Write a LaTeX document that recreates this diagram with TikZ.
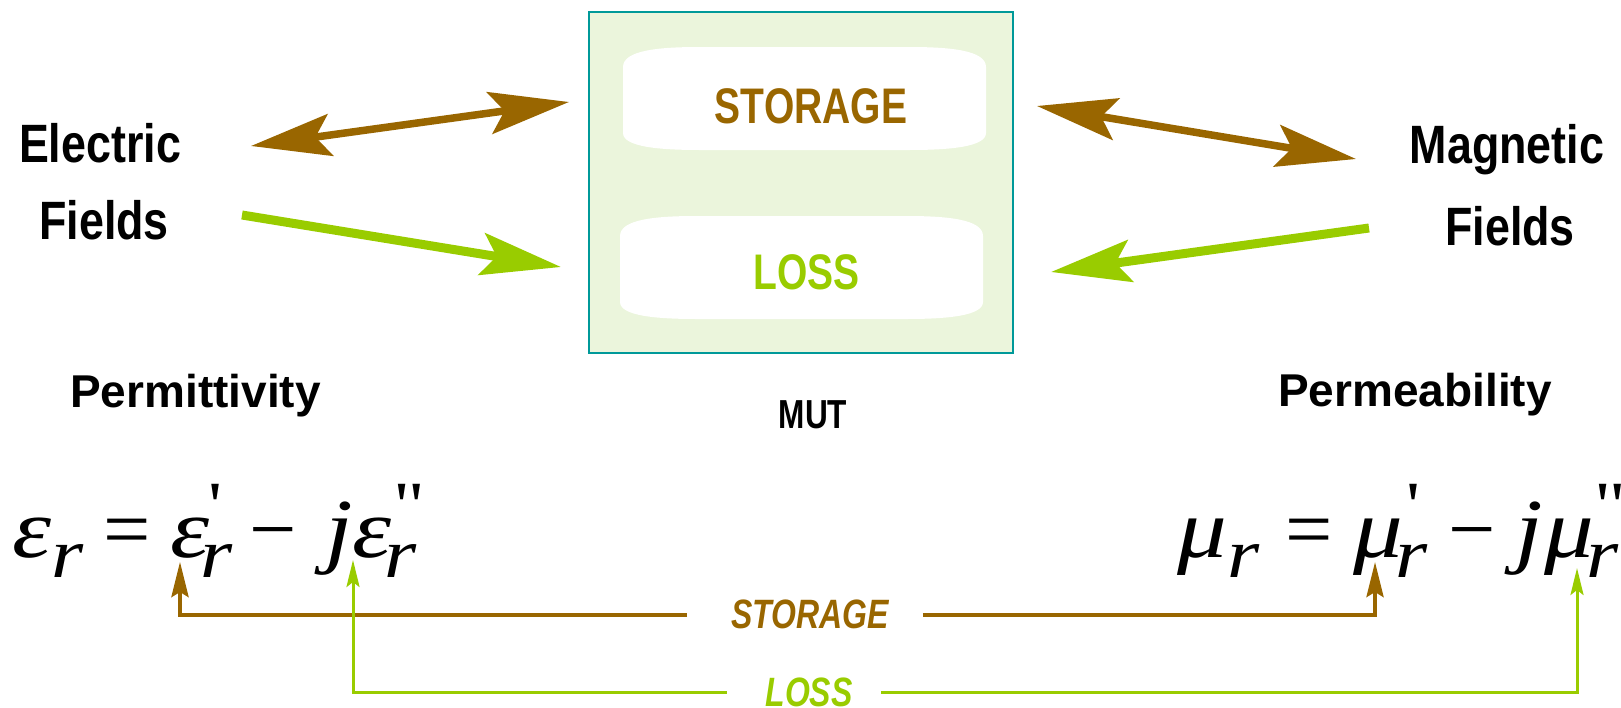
\documentclass[tikz,border=0pt]{standalone}
\usepackage{fontspec}
\setmainfont{Liberation Sans}
\newfontfamily\narrowsf[FakeStretch=0.78]{Liberation Sans}
\newfontfamily\midsf[FakeStretch=0.83]{Liberation Sans}
\newfontfamily\eqfont[Ligatures=TeXOff, FakeStretch=1.18]{Liberation Serif}
\newfontfamily\eqopfont{Liberation Serif}
\usetikzlibrary{arrows.meta}
\definecolor{storebrown}{HTML}{996600}
\definecolor{lossgreen}{HTML}{99CC00}
\definecolor{mutedge}{HTML}{009999}
\definecolor{mutfill}{HTML}{EBF5DC}
\newcommand\lowr{\raisebox{-20pt}{\fontsize{70}{70}\selectfont r}}
\newcommand\tick[1]{\raisebox{30pt}{\upshape\fontsize{66}{66}\selectfont #1}}
\newcommand\eqop[1]{{\eqopfont\upshape #1}}
\newcommand\glyphat[2]{\rlap{\kern#1pt#2}}
\tikzset{
  fieldlbl/.style={inner sep=0pt, anchor=base, font=\midsf\bfseries\fontsize{54}{60}\selectfont},
  proplbl/.style={inner sep=0pt, anchor=base, font=\bfseries\fontsize{46}{52}\selectfont},
  padlbl/.style={inner sep=0pt, anchor=base, font=\narrowsf\bfseries\fontsize{50}{56}\selectfont},
  wirelbl/.style={inner ysep=0pt, font=\narrowsf\bfseries\itshape\fontsize{41}{46}\selectfont},
  eqtext/.style={inner sep=0pt, anchor=base west, font=\eqfont\itshape\fontsize{84}{90}\selectfont},
  pad/.style={fill=white},
  bigarrow/.style={>={Stealth[length=80pt,width=42pt,inset=15pt]}},
  storeline/.style={storebrown, line width=4pt, -{Stealth[length=35pt,width=17pt,inset=5pt]}},
  lossline/.style={lossgreen, line width=3pt, -{Stealth[length=27pt,width=13pt,inset=5pt]}}
}

\begin{document}
\begin{tikzpicture}[x=1pt, y=-1pt]
  \useasboundingbox (0,0) rectangle (1621,707);

  % material under test
  \node[draw=mutedge, fill=mutfill, line width=2pt, minimum width=424pt, minimum height=341pt] (mut) at (801,182.5) {};
  \fill[pad, shift={(623,47)}] (0,20) .. controls (0,3) and (37,0) .. (77,0) -- (286,0) .. controls (326,0) and (363,3) .. (363,20) -- (363,86) .. controls (363,100) and (326,103) .. (286,103) -- (77,103) .. controls (37,103) and (0,100) .. (0,86) -- cycle;
  \fill[pad, shift={(620,216)}] (0,20) .. controls (0,3) and (37,0) .. (77,0) -- (286,0) .. controls (326,0) and (363,3) .. (363,20) -- (363,86) .. controls (363,100) and (326,103) .. (286,103) -- (77,103) .. controls (37,103) and (0,100) .. (0,86) -- cycle;
  \node[padlbl, storebrown] (store) at (811,123) {STORAGE};
  \node[padlbl, lossgreen] (loss) at (806.5,289) {LOSS};
  \node[padlbl, font=\narrowsf\bfseries\fontsize{40.5}{46}\selectfont] (mutlbl) at (813,428) {MUT};

  % fields and properties
  \node[fieldlbl] (elec) at (100,162) {Electric};
  \node[fieldlbl] (elecf) at (104,239) {Fields};
  \node[fieldlbl] (magn) at (1507,163) {Magnetic};
  \node[fieldlbl] (magnf) at (1510,245) {Fields};
  \node[proplbl] (perm) at (195.5,407) {Permittivity};
  \node[proplbl] (perb) at (1415,406) {Permeability};

  % field arrows
  \coordinate (eS) at (251,146);
  \coordinate (mS) at (569,102);
  \coordinate (eL) at (242,215);
  \coordinate (mL) at (561,267);
  \coordinate (mS2) at (1037,106);
  \coordinate (hS) at (1356,159);
  \coordinate (hL) at (1369,228);
  \coordinate (mL2) at (1051,272);
  \draw[bigarrow, <->, storebrown, line width=7.5pt] (eS) -- (mS);
  \draw[bigarrow, ->, lossgreen, line width=9pt] (eL) -- (mL);
  \draw[bigarrow, <->, storebrown, line width=7.5pt] (mS2) -- (hS);
  \draw[bigarrow, ->, lossgreen, line width=9pt] (hL) -- (mL2);

  % equations
  \node[eqtext] (epseq) at (12,557) {\glyphat{0}{ε}\glyphat{39}{\lowr}\glyphat{91}{\eqop{=}}\glyphat{158}{ε}\glyphat{188}{\lowr}\glyphat{196}{\tick{'}}\glyphat{237}{\eqop{−}}\glyphat{313}{j}\glyphat{340}{ε}\glyphat{372}{\lowr}\glyphat{381}{\tick{"}}\kern402pt};
  \node[eqtext] (mueq) at (1177,557) {\glyphat{0}{μ}\glyphat{50}{\lowr}\glyphat{108}{\eqop{=}}\glyphat{176}{μ}\glyphat{218}{\lowr}\glyphat{229}{\tick{'}}\glyphat{271}{\eqop{−}}\glyphat{338}{j}\glyphat{367}{μ}\glyphat{409}{\lowr}\glyphat{417}{\tick{"}}\kern438pt};

  % storage and loss terms
  \node[wirelbl, storebrown, inner xsep=34pt] (stlbl) at (810,614.5) {STORAGE};
  \node[wirelbl, lossgreen, inner xsep=28.5pt] (lslbl) at (809,692.5) {LOSS};
  \coordinate (epsst) at (180,562);
  \coordinate (epsls) at (353,560);
  \coordinate (must) at (1375,562);
  \coordinate (muls) at (1577,568);
  \draw[storeline] ([xshift=-10pt]stlbl.west) -| (epsst);
  \draw[storeline] (stlbl.east) -| (must);
  \draw[lossline] ([xshift=-10pt]lslbl.west) -| (epsls);
  \draw[lossline] (lslbl.east) -| (muls);
\end{tikzpicture}
\end{document}
